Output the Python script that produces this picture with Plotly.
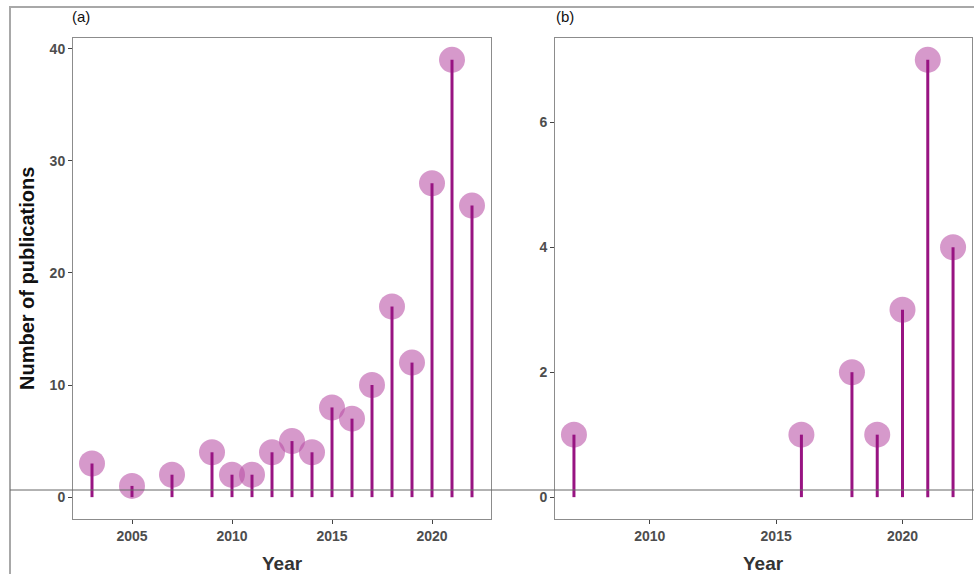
import plotly.graph_objects as go

# ---- data ----
years_a = [2003, 2005, 2007, 2009, 2010, 2011, 2012, 2013, 2014, 2015, 2016, 2017, 2018, 2019, 2020, 2021, 2022]
pubs_a = [3, 1, 2, 4, 2, 2, 4, 5, 4, 8, 7, 10, 17, 12, 28, 39, 26]
years_b = [2007, 2016, 2018, 2019, 2020, 2021, 2022]
pubs_b = [1, 1, 2, 1, 3, 7, 4]
yticks_a = [0, 10, 20, 30, 40]
yticks_b = [0, 2, 4, 6]
xticks_a = [2005, 2010, 2015, 2020]
xticks_b = [2010, 2015, 2020]

W, H = 974, 574
FONT = "Liberation Sans, Arial, sans-serif"
MARKER = "rgba(185,80,165,0.58)"
STEM = "#981482"


def px(x):
    return x / W


def py(y):
    return 1 - y / H


def stems(xs, ys):
    sx, sy = [], []
    for x, y in zip(xs, ys):
        sx += [x, x, None]
        sy += [0, y, None]
    return sx, sy


def expand(vals, frac=0.05):
    lo, hi = min(vals), max(vals)
    d = (hi - lo) * frac
    return [lo - d, hi + d]


fig = go.Figure()

for xs, ys, xa, ya in [(years_a, pubs_a, "x", "y"), (years_b, pubs_b, "x2", "y2")]:
    fig.add_trace(go.Scatter(x=xs, y=ys, mode="markers", xaxis=xa, yaxis=ya,
                             marker=dict(size=26, color=MARKER, line=dict(width=0)),
                             showlegend=False, hoverinfo="skip"))
    sx, sy = stems(xs, ys)
    fig.add_trace(go.Scatter(x=sx, y=sy, mode="lines", xaxis=xa, yaxis=ya,
                             line=dict(color=STEM, width=3),
                             showlegend=False, hoverinfo="skip"))

axis_common = dict(showgrid=False, zeroline=False, showline=True, mirror=True,
                   linecolor="#8c8c8c", linewidth=1, ticks="outside", ticklen=4,
                   tickcolor="#444", tickwidth=1, automargin=False,
                   tickfont=dict(family=FONT, size=14, color="#4d4d4d", weight="bold"))

ydom = [py(519), py(38)]
fig.update_layout(
    width=W, height=H, margin=dict(l=0, r=0, t=0, b=0),
    paper_bgcolor="white", plot_bgcolor="white",
    xaxis=dict(domain=[px(73), px(491)], anchor="y", range=expand(years_a),
               tickvals=xticks_a, **axis_common),
    yaxis=dict(domain=ydom, anchor="x", range=expand([0] + pubs_a),
               tickvals=yticks_a, **axis_common),
    xaxis2=dict(domain=[px(555), px(972)], anchor="y2", range=expand(years_b),
                tickvals=xticks_b, **axis_common),
    yaxis2=dict(domain=ydom, anchor="x2", range=expand([0] + pubs_b),
                tickvals=yticks_b, **axis_common),
)

# outer frame and horizontal rule
fig.add_shape(type="rect", xref="paper", yref="paper", x0=px(10), x1=px(990),
              y0=py(590), y1=py(7), line=dict(color="#a8a8a8", width=2), layer="below")
fig.add_shape(type="line", xref="paper", yref="paper", x0=px(10), x1=px(974),
              y0=py(490), y1=py(490), line=dict(color="#666", width=1))

ann = [
    dict(text="(a)", x=px(81), y=py(17)),
    dict(text="(b)", x=px(565), y=py(17)),
]
for a in ann:
    fig.add_annotation(xref="paper", yref="paper", x=a["x"], y=a["y"], text=a["text"],
                       showarrow=False, xanchor="center", yanchor="middle",
                       font=dict(family=FONT, size=15, color="#111"))
fig.add_annotation(xref="paper", yref="paper", x=px(27), y=py(279),
                   text="<b>Number of publications</b>", textangle=-90, showarrow=False,
                   xanchor="center", yanchor="middle",
                   font=dict(family=FONT, size=20, color="#111"))
for xc in (282, 763):
    fig.add_annotation(xref="paper", yref="paper", x=px(xc), y=py(563),
                       text="<b>Year</b>", showarrow=False, xanchor="center",
                       yanchor="middle", font=dict(family=FONT, size=19, color="#333"))

fig.write_html("out.html")
